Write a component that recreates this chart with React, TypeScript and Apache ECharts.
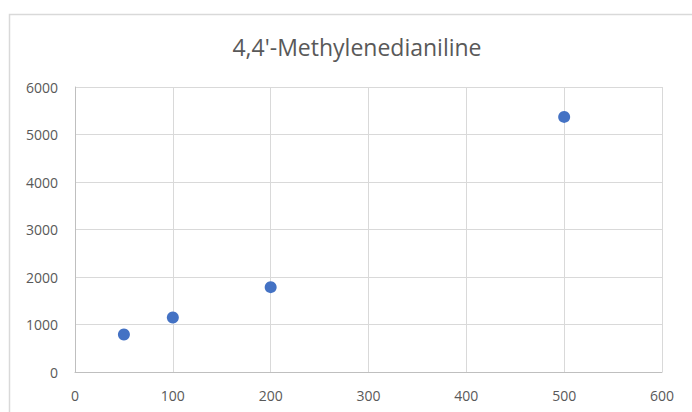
import React, { useEffect, useRef } from "react";
import * as echarts from "echarts";

const title = "4,4'-Methylenedianiline";
const xValues = [50, 100, 200, 500];
const yValues = [790, 1147, 1786, 5370];

export default function App() {
  const ref = useRef<HTMLDivElement>(null);
  useEffect(() => {
    if (!ref.current) return;
    const chart = echarts.init(ref.current, null, { renderer: "svg" });
    chart.setOption({
      animation: false,
      backgroundColor: "#ffffff",
      title: {
        text: title,
        left: 352,
        textAlign: "center",
        top: 30,
        textStyle: { fontFamily: "Open Sans", fontSize: 23, fontWeight: "normal", color: "#595959" },
      },
      graphic: [
        {
          type: "rect",
          shape: { x: 9.5, y: 14.5, width: 700, height: 420 },
          style: { fill: "none", stroke: "#d9d9d9", lineWidth: 1.5 },
          silent: true,
        },
      ],
      grid: { left: 75, top: 87, width: 587, height: 285, containLabel: false },
      xAxis: {
        type: "value",
        min: 0,
        max: 600,
        interval: 100,
        axisLine: { show: true, lineStyle: { color: "#bfbfbf", width: 1 } },
        axisTick: { show: false },
        splitLine: { show: true, lineStyle: { color: "#d9d9d9", width: 1 } },
        axisLabel: { color: "#595959", fontSize: 14, fontFamily: "Open Sans", margin: 16, formatter: (v: number) => String(v) },
      },
      yAxis: {
        type: "value",
        min: 0,
        max: 6000,
        interval: 1000,
        axisLine: { show: true, lineStyle: { color: "#bfbfbf", width: 1 } },
        axisTick: { show: false },
        splitLine: { show: true, lineStyle: { color: "#d9d9d9", width: 1 } },
        axisLabel: { color: "#595959", fontSize: 14, fontFamily: "Open Sans", margin: 17, formatter: (v: number) => String(v) },
      },
      series: [
        {
          type: "scatter",
          data: xValues.map((x, i) => [x, yValues[i]]),
          symbol: "circle",
          symbolSize: 12,
          itemStyle: { color: "#4472C4", opacity: 1 },
        },
      ],
    });
    return () => chart.dispose();
  }, []);
  return (
    <div
      ref={ref}
      style={{ position: "fixed", left: 0, top: 0, width: 692, height: 412 }}
    />
  );
}
